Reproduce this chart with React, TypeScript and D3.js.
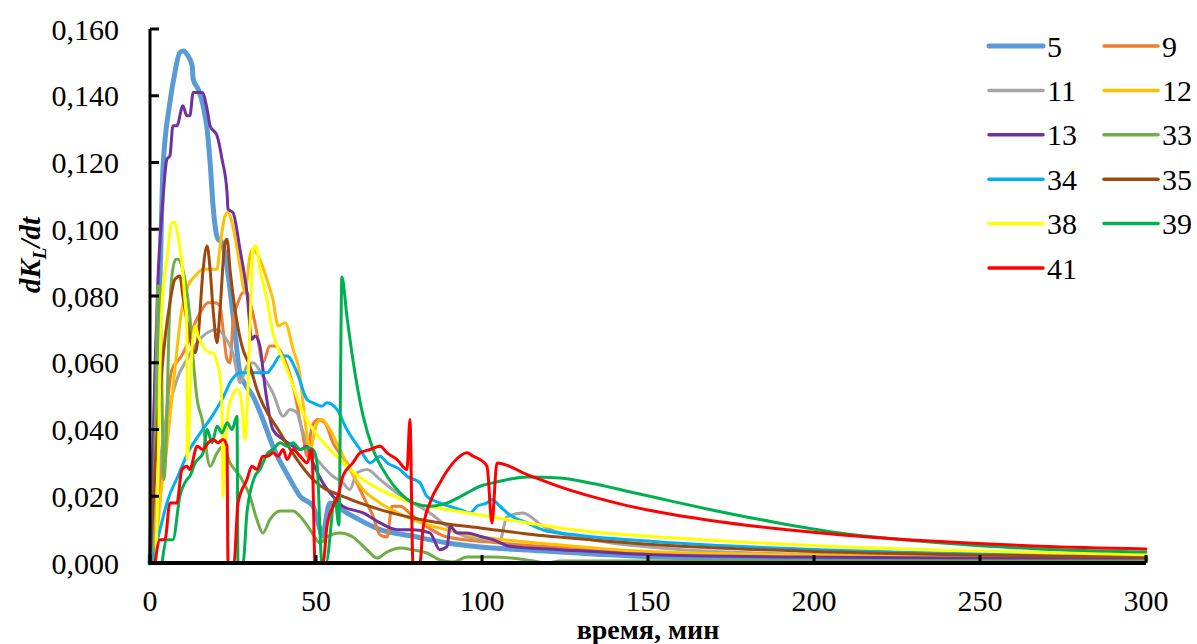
import React from "react";
import * as d3 from "d3";

type Pt = [number, number];

const s5: Pt[] = [[0,0],[1,0.03],[2.1,0.064],[3,0.085],[3.9,0.118],[6,0.138],[7.5,0.147],[9,0.153],[10,0.1534],[11.4,0.152],[12.7,0.149],[13,0.145],[14.5,0.142],[16,0.137],[17.2,0.13],[18.1,0.12],[19,0.107],[19.6,0.101],[20.5,0.097],[21.7,0.096],[23,0.09],[24.1,0.082],[25.5,0.07],[27.1,0.057],[29,0.053],[31,0.05],[34,0.043],[37,0.035],[42.2,0.025],[45.2,0.02],[49.1,0.017],[51.2,0.01],[51.8,0.008],[54.2,0.018],[59.3,0.015],[69.3,0.01],[79.2,0.008],[89.5,0.006],[99.4,0.0048],[113.6,0.0039],[153.6,0.0018],[200,0.0012],[300,0.001]];

const s9: Pt[] = [[0.6,0],[1.5,0.008],[2.4,0.018],[3.9,0.033],[6.6,0.058],[9.5,0.062],[11.4,0.066],[13.6,0.072],[15.7,0.076],[17.5,0.078],[19.6,0.078],[21.1,0.077],[22,0.07],[23.2,0.061],[24.1,0.06],[25,0.072],[26.5,0.078],[28,0.081],[29.2,0.081],[30.7,0.076],[32.2,0.069],[34,0.06],[36.1,0.065],[37.7,0.065],[40.1,0.062],[43.1,0.053],[46.1,0.038],[47.3,0.032],[48.8,0.041],[50.6,0.043],[52.7,0.042],[55.1,0.036],[59.3,0.03],[64.2,0.02],[67.2,0.014],[69.3,0.0084],[71.4,0.0078],[72.9,0.017],[75.3,0.017],[79.2,0.014],[89.5,0.0078],[105.4,0.006],[135.5,0.004],[167,0.0027],[195.8,0.0021],[300,0.0012]];

const s11: Pt[] = [[0.6,0],[3,0.03],[5.4,0.045],[8.1,0.055],[11.1,0.061],[14.2,0.066],[17.2,0.069],[20.2,0.07],[23,0.067],[25.2,0.062],[26.2,0.057],[27.1,0.054],[29.2,0.059],[31,0.06],[34,0.056],[37,0.051],[40.1,0.044],[42.2,0.046],[44.3,0.045],[45.2,0.042],[48.2,0.034],[51.2,0.03],[55.1,0.026],[58.1,0.024],[60.2,0.022],[62.3,0.027],[65.4,0.028],[69.3,0.025],[74.4,0.021],[79.2,0.018],[84.3,0.015],[89.5,0.011],[95.5,0.0078],[105.4,0.0069],[107.5,0.0138],[112.3,0.015],[118.4,0.011],[123.5,0.009],[133.4,0.0069],[153.6,0.0045],[195.8,0.0027],[300,0.0018]];

const s12: Pt[] = [[1.5,0],[2.1,0.008],[3,0.018],[5.1,0.035],[7.5,0.058],[9.6,0.076],[11.4,0.083],[13.6,0.086],[16,0.088],[18.7,0.088],[20.2,0.088],[21.1,0.095],[22.6,0.104],[23.5,0.105],[24.7,0.102],[27.1,0.089],[28.6,0.081],[30.1,0.092],[31,0.094],[33.1,0.091],[35.2,0.085],[37,0.079],[38.6,0.071],[40.7,0.072],[43.1,0.064],[45.2,0.056],[46.1,0.048],[47.3,0.038],[48.2,0.034],[50.3,0.042],[51.8,0.043],[54.2,0.04],[57.2,0.034],[60.2,0.028],[64.2,0.022],[69.3,0.018],[79.2,0.013],[93.4,0.009],[123.5,0.0054],[153.6,0.0033],[226,0.0021],[300,0.0015]];

const s13: Pt[] = [[0.3,0],[0.6,0.018],[1.5,0.058],[2.4,0.085],[3.9,0.109],[5.1,0.121],[6,0.122],[6.9,0.131],[8.1,0.131],[9.9,0.137],[11.1,0.134],[12,0.134],[13,0.141],[14.5,0.141],[15.7,0.141],[17.2,0.136],[18.1,0.131],[20.2,0.128],[21.7,0.121],[23.2,0.111],[23.5,0.106],[25,0.105],[27.1,0.094],[29.2,0.081],[30.7,0.067],[31.6,0.068],[33.1,0.065],[34.6,0.053],[37,0.04],[40.1,0.037],[43.1,0.035],[45.2,0.034],[47.3,0.035],[49.1,0.03],[52.1,0.024],[55.1,0.02],[58.1,0.017],[64.2,0.015],[69.3,0.012],[74.4,0.01],[79.2,0.01],[84.3,0.009],[87.3,0.004],[89.5,0.005],[90.4,0.011],[92.5,0.009],[95.5,0.009],[99.4,0.008],[103.3,0.007],[108.4,0.005],[123.5,0.004],[153.6,0.0024],[195.8,0.0018],[300,0.0012]];

const s33: Pt[] = [[0.3,0],[1.5,0.034],[2.4,0.083],[3,0.083],[3.3,0.07],[4.2,0.025],[4.8,0.034],[5.7,0.07],[6.6,0.086],[7.8,0.091],[8.4,0.091],[9.6,0.089],[10.5,0.085],[12,0.074],[13,0.061],[14.2,0.049],[15.7,0.043],[18.1,0.029],[20.2,0.033],[22,0.035],[24.1,0.03],[27.1,0.026],[30.1,0.02],[32.2,0.013],[34,0.009],[36.1,0.013],[39.2,0.0156],[43.1,0.0156],[45.2,0.014],[48.2,0.01],[51.2,0.006],[53.3,0.0078],[57.2,0.009],[61.1,0.0078],[65.4,0.0039],[68.4,0.0015],[71.4,0.0033],[75.3,0.0045],[79.2,0.0039],[83.4,0.003],[87.3,0.0009],[91.3,0.0003],[95.5,0.0018],[103.3,0.0018],[113.6,0.0009],[119.6,0],[123.5,0.0006],[165.7,0.0006],[300,0.0006]];

const s34: Pt[] = [[0.3,0],[1.5,0.004],[3,0.01],[5.4,0.019],[8.4,0.026],[11.4,0.033],[14.5,0.038],[18.7,0.044],[21.7,0.049],[24.7,0.055],[27.1,0.057],[30.1,0.057],[33.1,0.057],[35.2,0.057],[37,0.059],[39.2,0.062],[41.3,0.062],[44.3,0.057],[47.3,0.049],[49.1,0.048],[51.8,0.047],[53.3,0.048],[56.3,0.046],[59.3,0.04],[63.3,0.034],[66.3,0.03],[69.3,0.032],[71.4,0.03],[75.3,0.028],[77.4,0.026],[81.3,0.024],[83.4,0.02],[87.3,0.018],[93.4,0.016],[96.4,0.015],[98.5,0.017],[101.5,0.018],[103,0.019],[105.4,0.017],[108.4,0.0144],[113.6,0.012],[118.4,0.0099],[128.6,0.0084],[153.6,0.0063],[195.8,0.0042],[300,0.0021]];

const s35: Pt[] = [[0,0],[1.5,0.028],[3.6,0.058],[6,0.078],[7.5,0.085],[9,0.086],[9.9,0.08],[11.4,0.071],[13.6,0.063],[14.5,0.068],[16,0.088],[17.2,0.095],[18.1,0.088],[19,0.076],[20.2,0.066],[21.1,0.076],[22.6,0.096],[23.2,0.097],[24.1,0.088],[25.6,0.076],[27.7,0.065],[30.1,0.059],[32.2,0.052],[39.2,0.039],[44.3,0.031],[49.1,0.025],[59.3,0.0195],[69.3,0.016],[79.2,0.0135],[89.5,0.0117],[99.4,0.0105],[113.6,0.0087],[133.4,0.0069],[153.6,0.0054],[195.8,0.0036],[300,0.0018]];

const s38: Pt[] = [[1.8,0],[2.4,0.025],[3,0.058],[3.9,0.082],[5.1,0.091],[6.6,0.102],[7.5,0.102],[8.4,0.098],[9.6,0.09],[10.5,0.079],[11.1,0.07],[11.2,0.031],[12.7,0.065],[13.6,0.071],[14.5,0.068],[16,0.065],[18.1,0.063],[19,0.063],[20.2,0.06],[21.1,0.056],[21.7,0.046],[22,0.02],[22.6,0.033],[23.5,0.045],[24.7,0.05],[26.2,0.052],[27.1,0.051],[27.7,0.047],[28.6,0.037],[30.1,0.07],[31,0.094],[31.9,0.095],[33.1,0.088],[35.2,0.079],[37,0.069],[40.1,0.061],[43.1,0.053],[45.2,0.047],[49.1,0.04],[54.2,0.034],[59.3,0.029],[64.2,0.025],[69.3,0.022],[79.2,0.018],[89.5,0.016],[99.4,0.0144],[113.6,0.012],[133.4,0.0093],[153.6,0.0078],[195.8,0.0054],[300,0.0025]];

const s39: Pt[] = [[3.6,0],[5.1,0.007],[6.9,0.007],[9,0.02],[11.1,0.025],[12,0.026],[13.6,0.03],[16,0.033],[17.2,0.04],[18.7,0.036],[20.2,0.041],[21.7,0.039],[23.2,0.042],[24.7,0.04],[26.2,0.044],[26.5,0],[28,0],[29.2,0.015],[31.6,0.026],[33.1,0.028],[35.5,0.033],[37,0.034],[39.2,0.036],[41.3,0.035],[43.1,0.036],[45.2,0.034],[47.3,0.0345],[49.1,0.034],[50.3,0.03],[51.8,0],[53,0],[55.7,0.019],[56.9,0.0114],[57.8,0.0857],[59.3,0.074],[61.1,0.061],[64.2,0.044],[67.2,0.034],[71.4,0.026],[75.3,0.021],[79.2,0.018],[84.3,0.017],[89.5,0.018],[95.5,0.021],[99.4,0.023],[103.3,0.024],[113.6,0.0258],[123.5,0.0255],[133.4,0.0238],[143.7,0.0215],[153.6,0.0193],[167.8,0.0162],[187.7,0.0123],[207.8,0.009],[228,0.0069],[247.9,0.0053],[268,0.0042],[300,0.0033]];

const s41: Pt[] = [[1.5,0],[3,0.007],[4.5,0.007],[6,0.018],[8.1,0.018],[9.6,0.028],[11.1,0.029],[12,0.028],[14.2,0.035],[15.9,0.034],[17.5,0.036],[19,0.037],[20.5,0.036],[22,0.037],[23.2,0.035],[23.5,0],[25.3,0],[26.5,0.018],[29.2,0.025],[30.7,0.029],[32.2,0.028],[34,0.032],[35.5,0.032],[37,0.033],[38.6,0.032],[40.1,0.034],[41.3,0.031],[43.1,0.034],[45.2,0.032],[47.3,0.03],[48.8,0.034],[49.1,0.024],[49.7,0],[52.1,0],[53.3,0.011],[55.1,0.017],[56.6,0.02],[58.1,0.026],[61.1,0.03],[63.3,0.033],[66.3,0.034],[69.3,0.035],[71.4,0.033],[74.4,0.031],[77.4,0.028],[78.3,0.043],[79.2,0],[81.3,0],[82.2,0.01],[84.3,0.018],[87.3,0.024],[91.3,0.03],[95.5,0.033],[97.3,0.032],[99.4,0.031],[101.5,0.029],[103,0.012],[104.5,0.03],[113.6,0.0265],[123.5,0.0228],[133.4,0.0198],[143.7,0.0172],[153.6,0.0152],[167.8,0.0129],[187.7,0.0104],[207.8,0.0085],[228,0.007],[247.9,0.0059],[268,0.005],[300,0.0042]];

const seriesNames = ["5", "9", "11", "12", "13", "33", "34", "35", "38", "39", "41"];
const seriesData: Pt[][] = [s5, s9, s11, s12, s13, s33, s34, s35, s38, s39, s41];
const seriesColors = ["#5B9BD5", "#ED7D31", "#A5A5A5", "#FFC000", "#7030A0", "#70AD47", "#00B0F0", "#9E480E", "#FFFF00", "#00B050", "#FF0000"];
const seriesWidths = [5, 3, 3, 3, 3, 3, 3, 3, 3, 3, 3];

const xTicks = [0, 50, 100, 150, 200, 250, 300];
const yTicks = [0, 0.02, 0.04, 0.06, 0.08, 0.1, 0.12, 0.14, 0.16];

const FONT = "Liberation Serif, Times New Roman, DejaVu Serif, serif";

export default function App() {
  const W = 1197, H = 644;
  const x = d3.scaleLinear().domain([0, 300]).range([150, 1146]);
  const y = d3.scaleLinear().domain([0, 0.16]).range([563, 29]);
  const line = d3.line<Pt>().x(d => x(d[0])).y(d => y(d[1])).curve(d3.curveMonotoneX);
  const fmt = (v: number) => d3.format(".3f")(v).replace(".", ",");
  const ts = { fontFamily: FONT };

  return (
    <svg width={W} height={H} style={{ position: "absolute", left: 0, top: 0, background: "#fff" }}>
      <rect x={0} y={0} width={W} height={H} fill="#fff" />
      {seriesData.map((d, i) => (
        <path key={seriesNames[i]} d={line(d) || ""} fill="none" stroke={seriesColors[i]}
          strokeWidth={seriesWidths[i]} strokeLinejoin="round" strokeLinecap="round" />
      ))}
      <line x1={x(0)} x2={x(0)} y1={y(0.16)} y2={y(0) + 2} stroke="#000" strokeWidth={3} />
      <line x1={x(0) - 1.5} x2={x(300)} y1={y(0)} y2={y(0)} stroke="#000" strokeWidth={4} />
      {yTicks.map(t => (
        <g key={"y" + t}>
          <line x1={x(0)} x2={x(0) + 9} y1={y(t)} y2={y(t)} stroke="#000" strokeWidth={3} />
          <text x={119} y={y(t)} dy="0.35em" textAnchor="end" fontSize={30} fill="#000" style={ts}>{fmt(t)}</text>
        </g>
      ))}
      {xTicks.map(t => (
        <g key={"x" + t}>
          <line x1={x(t)} x2={x(t)} y1={y(0)} y2={y(0) - 8} stroke="#000" strokeWidth={3} />
          <text x={x(t)} y={611} textAnchor="middle" fontSize={30} fill="#000" style={ts}>{t}</text>
        </g>
      ))}
      <text x={648} y={639} textAnchor="middle" fontSize={28} fontWeight="bold" fill="#000" style={ts}>время, мин</text>
      <text transform="translate(40,255) rotate(-90)" textAnchor="middle" fontSize={29} fontWeight="bold" fontStyle="italic" fill="#000" style={ts}>
        dK<tspan fontSize={19} dy={6}>L</tspan><tspan dy={-6}>/dt</tspan>
      </text>
      {seriesNames.map((n, i) => {
        const col = i % 2, row = Math.floor(i / 2);
        const lx = col === 0 ? 989 : 1104;
        const ly = 46 + row * 44.4;
        return (
          <g key={"lg" + n}>
            <line x1={lx} x2={lx + 54} y1={ly} y2={ly} stroke={seriesColors[i]} strokeWidth={seriesWidths[i] + (i === 0 ? 0 : 0.5)} strokeLinecap="round" />
            <text x={lx + 58} y={ly} dy="0.35em" fontSize={30} fill="#000" style={ts}>{n}</text>
          </g>
        );
      })}
    </svg>
  );
}
